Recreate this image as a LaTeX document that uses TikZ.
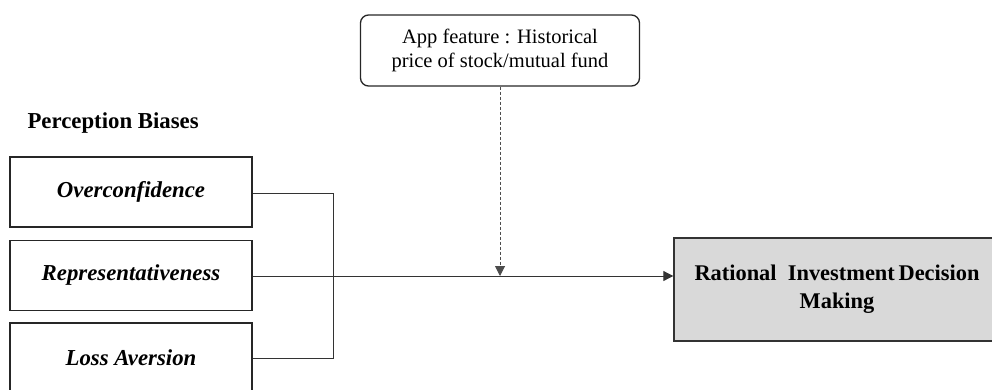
\documentclass[tikz,border=0pt]{standalone}
\usepackage{fontspec}
\setmainfont{Liberation Serif}
\usetikzlibrary{arrows.meta}
\begin{document}
\begin{tikzpicture}[x=1pt,y=-1pt,
  bias/.style={draw=black!85,line width=1.4pt,minimum width=242pt,minimum height=70pt,inner sep=0pt,
    font=\fontsize{22.8}{24}\selectfont\bfseries\itshape},
  topbox/.style={draw=black!85,line width=1.3pt,rounded corners=8pt,minimum width=279pt,minimum height=71pt,
    inner sep=0pt,align=center,font=\fontsize{20.5}{24}\selectfont},
  outbox/.style={draw=black!80,fill=black!15,line width=1.4pt,minimum width=326pt,minimum height=103pt,
    inner sep=0pt,align=center,font=\fontsize{22.4}{28}\selectfont\bfseries},
  conn/.style={draw=black!80,line width=1pt},
  arr/.style={conn,-{Triangle[length=10pt,width=10pt]}},
  dasharr/.style={conn,draw=black!70,dash pattern=on 3pt off 2pt,-{Triangle[length=10pt,width=10pt]}}
]
\useasboundingbox (0,0) rectangle (992,389);
\node[font=\fontsize{22.8}{24}\selectfont\bfseries,anchor=west] (lbl) at (24,123) {Perception Biases};
\node[bias] (ov) at (131,192) {Overconfidence};
\node[bias] (rep) at (131,275.5) {Representativeness};
\node[bias] (loss) at (131,358) {Loss Aversion};
\node[topbox] (app) at (500,50.5) {App feature : Historical\\price of stock/mutual fund};
\node[outbox] (out) at (837,289.5) {Rational\ \ Investment\,Decision\\Making};
\coordinate (j) at (333,276);
\coordinate (m) at (500,276);
\draw[conn] (ov.east |- 0,193) -- (333,193) -- (333,358) -- (loss.east |- 0,358);
\draw[conn] (rep.east |- j) -- (j);
\draw[arr] (j) -- (j -| out.west);
\draw[dasharr] (app.south) -- (m);
\end{tikzpicture}
\end{document}
